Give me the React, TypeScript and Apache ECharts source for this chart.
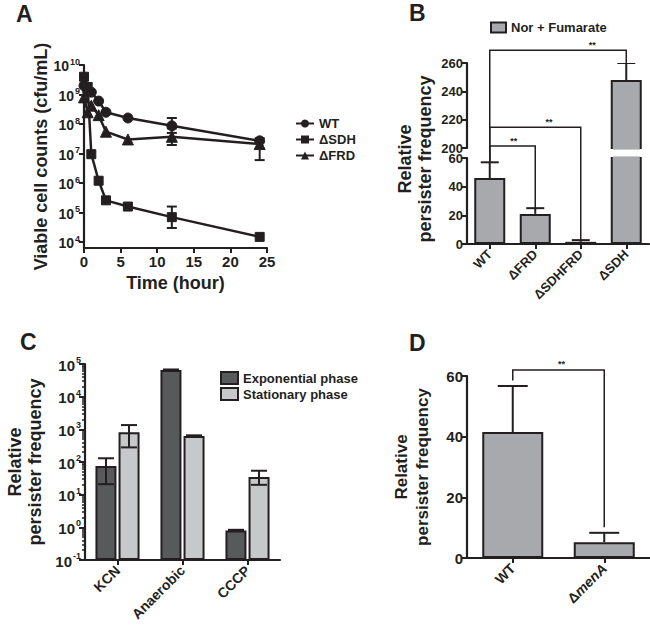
import React, { useEffect, useRef } from 'react';
import * as echarts from 'echarts';

const FONT = "'Liberation Sans', Arial, Helvetica, sans-serif";
const INK = '#231f20';

// ---------- Panel A: time-kill curves ----------
const timeHours = [0, 0.5, 1, 2, 3, 6, 12, 24];
const wtCounts = [2.0e9, 1.3e9, 1.2e9, 6.0e8, 2.5e8, 1.6e8, 8.7e7, 2.7e7];
const sdhCounts = [4.0e9, 1.8e9, 9.5e6, 1.2e6, 2.6e5, 1.6e5, 7.0e4, 1.5e4];
const frdCounts = [8.0e8, 2.5e8, 4.2e8, 2.0e8, 5.5e7, 3.0e7, 3.7e7, 2.1e7];
const wtErrLow: (number | null)[] = [null, null, null, null, null, null, 5.0e7, null];
const wtErrHigh: (number | null)[] = [null, null, null, null, null, null, 1.6e8, null];
const sdhErrLow: (number | null)[] = [null, null, null, null, null, null, 3.0e4, null];
const sdhErrHigh: (number | null)[] = [null, null, null, null, null, null, 1.6e5, null];
const frdErrLow: (number | null)[] = [null, null, null, null, null, null, 1.95e7, 6.0e6];
const frdErrHigh: (number | null)[] = [null, null, null, null, null, null, 7.1e7, 3.3e7];
const aYTicks = [1e4, 1e5, 1e6, 1e7, 1e8, 1e9, 1e10];

// ---------- Panel B ----------
const bCategories = ['WT', 'ΔFRD', 'ΔSDHFRD', 'ΔSDH'];
const bValues = [46, 21, 1.5, 248];
const bErrors = [11, 4, 1.2, 12];
const bBracketTargets = [3, 2, 1];
const bBracketLevels = [269, 214.7, 201.4];
const bStarFractions = [0.75, 0.65, 0.53];

// ---------- Panel C ----------
const cCategories = ['KCN', 'Anaerobic', 'CCCP'];
const expValues = [75, 65000, 0.8];
const expErrLow = [21, 62000, 0.77];
const expErrHigh = [130, 68000, 0.84];
const statValues = [820, 630, 35];
const statErrLow = [280, 605, 20];
const statErrHigh = [1350, 655, 54];
const cMajorTicks = [0.1, 1, 10, 100, 1000, 10000, 100000];
const cMinorTicks: number[] = [];
[0.1, 1, 10, 100, 1000, 10000].forEach((d) => {
  for (let k = 2; k <= 9; k++) cMinorTicks.push(+(d * k).toPrecision(3));
});

// ---------- Panel D ----------
const dCategories = ['WT', 'ΔmenA'];
const dValues = [41.5, 5.2];
const dErrors = [15.2, 3.1];
const dBracketLevel = 62;

const supLabel = (v: number) => `{b|10}{s|${Math.round(Math.log10(v))}}`;
const supRich = (base: number, sup: number) => ({
  b: { fontSize: base, fontWeight: 'bold', fontFamily: FONT, color: INK, lineHeight: base + 2, verticalAlign: 'bottom' },
  s: { fontSize: sup, fontWeight: 'bold', fontFamily: FONT, color: INK, verticalAlign: 'top', padding: [0, 0, 0, 1] },
});

const axisLine = { show: true, lineStyle: { color: INK, width: 2.2 } };
const axisTick = (len = 5) => ({ show: true, length: len, lineStyle: { color: INK, width: 2 } });
const label = (size: number) => ({ color: INK, fontSize: size, fontWeight: 'bold', fontFamily: FONT });

function errRender(offsetPx: number, capHalf: number, lowerCap: boolean) {
  return (params: any, api: any) => {
    const x = api.value(0);
    const lo = api.value(1);
    const hi = api.value(2);
    const pLo = api.coord([x, lo]);
    const pHi = api.coord([x, hi]);
    const cx = pLo[0] + offsetPx;
    const st = { stroke: INK, lineWidth: 2 };
    const children: any[] = [
      { type: 'line', shape: { x1: cx, y1: pLo[1], x2: cx, y2: pHi[1] }, style: st },
      { type: 'line', shape: { x1: cx - capHalf, y1: pHi[1], x2: cx + capHalf, y2: pHi[1] }, style: st },
    ];
    if (lowerCap) children.push({ type: 'line', shape: { x1: cx - capHalf, y1: pLo[1], x2: cx + capHalf, y2: pLo[1] }, style: st });
    return { type: 'group', children };
  };
}

function aErrData(lo: (number | null)[], hi: (number | null)[]) {
  const out: number[][] = [];
  timeHours.forEach((t, i) => {
    if (lo[i] != null && hi[i] != null) out.push([t, lo[i] as number, hi[i] as number]);
  });
  return out;
}

function buildOption(): any {
  const lineSeries = (name: string, vals: number[], symbol: string, size: number) => ({
    type: 'line', name, xAxisIndex: 0, yAxisIndex: 0,
    data: timeHours.map((t, i) => [t, vals[i]]),
    symbol, symbolSize: size, showSymbol: true,
    itemStyle: { color: INK, borderColor: INK },
    lineStyle: { color: INK, width: 2.5 }, z: 3,
  });
  const aErr = (lo: any, hi: any) => ({
    type: 'custom', xAxisIndex: 0, yAxisIndex: 0, z: 4,
    renderItem: errRender(0, 5, true),
    encode: { x: 0, y: [1, 2] },
    data: aErrData(lo, hi),
  });
  const bErrData = bValues.map((v, i) => [i, v, v + bErrors[i]]);
  const bBar = (xi: number, yi: number) => ({
    type: 'bar', name: 'Nor + Fumarate', xAxisIndex: xi, yAxisIndex: yi,
    data: bValues, barWidth: 31,
    itemStyle: { color: '#a7a9ac', borderColor: INK, borderWidth: 2 },
  });
  const bErr = (xi: number, yi: number) => ({
    type: 'custom', xAxisIndex: xi, yAxisIndex: yi, z: 4, clip: true,
    renderItem: errRender(0, 9, false), encode: { x: 0, y: [1, 2] }, data: bErrData,
  });
  const titleStyle = { fontSize: 23, fontWeight: 'bold', color: INK, fontFamily: FONT };

  return {
    animation: false,
    textStyle: { fontFamily: FONT, color: INK },
    title: [
      { text: 'A', left: 16, top: 2, padding: 0, textStyle: titleStyle },
      { text: 'B', left: 409, top: 1, padding: 0, textStyle: titleStyle },
      { text: 'C', left: 20, top: 330, padding: 0, textStyle: titleStyle },
      { text: 'D', left: 409, top: 331, padding: 0, textStyle: titleStyle },
    ],
    legend: [
      {
        data: ['WT', 'ΔSDH', 'ΔFRD'], orient: 'vertical', left: 295, top: 117, itemGap: 3,
        itemWidth: 18, itemHeight: 10, padding: 0,
        textStyle: { fontSize: 13, fontWeight: 'bold', color: INK, fontFamily: FONT },
      },
      {
        data: ['Nor + Fumarate'], left: 490, top: 21, itemWidth: 15, itemHeight: 10, padding: 0, icon: 'rect',
        textStyle: { fontSize: 13, fontWeight: 'bold', color: INK, fontFamily: FONT },
      },
      {
        data: ['Exponential phase', 'Stationary phase'], orient: 'vertical', left: 220, top: 371, itemGap: 2,
        itemWidth: 17, itemHeight: 12, padding: 0, icon: 'rect',
        textStyle: { fontSize: 13, fontWeight: 'bold', color: INK, fontFamily: FONT },
      },
    ],
    grid: [
      { left: 84, top: 65, width: 183, height: 183, outerBoundsMode: 'none' },
      { left: 467, top: 63, width: 182, height: 85, outerBoundsMode: 'none' },
      { left: 467, top: 158, width: 182, height: 86, outerBoundsMode: 'none' },
      { left: 85, top: 364, width: 195, height: 196, outerBoundsMode: 'none' },
      { left: 467, top: 376, width: 183, height: 182, outerBoundsMode: 'none' },
    ],
    xAxis: [
      {
        type: 'value', gridIndex: 0, min: 0, max: 25, interval: 5,
        axisLine, axisTick: axisTick(5), splitLine: { show: false },
        axisLabel: { ...label(15), margin: 6 },
        name: 'Time (hour)', nameLocation: 'middle', nameGap: 26,
        nameTextStyle: { fontSize: 18, fontWeight: 'bold', color: INK, fontFamily: FONT },
      },
      { type: 'category', gridIndex: 1, data: bCategories, show: false },
      {
        type: 'category', gridIndex: 2, data: bCategories,
        axisLine, axisTick: { ...axisTick(5), alignWithLabel: true },
        axisLabel: { ...label(13), rotate: 45, interval: 0, margin: 8 },
      },
      {
        type: 'category', gridIndex: 3, data: cCategories,
        axisLine, axisTick: { ...axisTick(5), alignWithLabel: true },
        axisLabel: { ...label(14), rotate: 45, interval: 0, margin: 8 },
      },
      {
        type: 'category', gridIndex: 4, data: dCategories,
        axisLine, axisTick: { ...axisTick(5), alignWithLabel: true },
        axisLabel: {
          ...label(14), rotate: 45, interval: 0, margin: 8,
          formatter: (v: string) => (v.startsWith('Δm') ? `{n|Δ}{i|${v.slice(1)}}` : v),
          rich: {
            n: { fontSize: 14, fontWeight: 'bold', fontFamily: FONT, color: INK },
            i: { fontSize: 14, fontWeight: 'bold', fontStyle: 'italic', fontFamily: FONT, color: INK },
          },
        },
      },
    ],
    yAxis: [
      {
        type: 'log', logBase: 10, gridIndex: 0, min: 6310, max: 1e10, position: 'left',
        axisLine, axisTick: { ...axisTick(5), customValues: aYTicks }, splitLine: { show: false },
        axisLabel: { customValues: aYTicks, formatter: supLabel, rich: supRich(14, 9), margin: 4 },
        name: 'Viable cell counts (cfu/mL)', nameLocation: 'middle', nameGap: 25,
        nameTextStyle: { fontSize: 18, fontWeight: 'bold', color: INK, fontFamily: FONT },
      },
      {
        type: 'value', gridIndex: 1, min: 200, max: 260, interval: 20,
        axisLine, axisTick: axisTick(5), splitLine: { show: false },
        axisLabel: { ...label(13), margin: 4, lineHeight: 9 },
      },
      {
        type: 'value', gridIndex: 2, min: 0, max: 60, interval: 20,
        axisLine, axisTick: axisTick(5), splitLine: { show: false },
        axisLabel: { ...label(13), margin: 4, lineHeight: 9 },
      },
      {
        type: 'log', logBase: 10, gridIndex: 3, min: 0.1, max: 1e5, startValue: 0.1, position: 'left',
        axisLine, axisTick: { ...axisTick(6), customValues: cMajorTicks }, splitLine: { show: false },
        axisLabel: { customValues: cMajorTicks, formatter: supLabel, rich: supRich(15, 9), margin: 4 },
        name: 'Relative\npersister frequency', nameLocation: 'middle', nameGap: 40,
        nameTextStyle: { fontSize: 18, fontWeight: 'bold', color: INK, fontFamily: FONT, lineHeight: 20 },
      },
      {
        type: 'log', logBase: 10, gridIndex: 3, min: 0.1, max: 1e5, position: 'left',
        axisLine: { show: false }, splitLine: { show: false }, axisLabel: { show: false },
        axisTick: { show: true, length: 3, customValues: cMinorTicks, lineStyle: { color: INK, width: 1.5 } },
      },
      {
        type: 'value', gridIndex: 4, min: 0, max: 60, interval: 20,
        axisLine, axisTick: axisTick(5), splitLine: { show: false }, axisLabel: { ...label(15), margin: 4 },
        name: 'Relative\npersister frequency', nameLocation: 'middle', nameGap: 34,
        nameTextStyle: { fontSize: 17, fontWeight: 'bold', color: INK, fontFamily: FONT, lineHeight: 21 },
      },
    ],
    series: [
      lineSeries('WT', wtCounts, 'circle', 10),
      lineSeries('ΔSDH', sdhCounts, 'rect', 9),
      lineSeries('ΔFRD', frdCounts, 'triangle', 11),
      aErr(wtErrLow, wtErrHigh),
      aErr(sdhErrLow, sdhErrHigh),
      aErr(frdErrLow, frdErrHigh),
      bBar(1, 1),
      bBar(2, 2),
      bErr(1, 1),
      bErr(2, 2),
      {
        type: 'bar', name: 'Exponential phase', xAxisIndex: 3, yAxisIndex: 3, data: expValues,
        barWidth: 21, barGap: '10%', itemStyle: { color: '#58595b', borderColor: INK, borderWidth: 2 },
      },
      {
        type: 'bar', name: 'Stationary phase', xAxisIndex: 3, yAxisIndex: 3, data: statValues,
        barWidth: 21, barGap: '10%', itemStyle: { color: '#c7c8ca', borderColor: INK, borderWidth: 2 },
      },
      {
        type: 'custom', xAxisIndex: 3, yAxisIndex: 3, z: 4, renderItem: errRender(-11.5, 8, true),
        encode: { x: 0, y: [1, 2] }, data: expValues.map((v, i) => [i, expErrLow[i], expErrHigh[i]]),
      },
      {
        type: 'custom', xAxisIndex: 3, yAxisIndex: 3, z: 4, renderItem: errRender(11.5, 8, true),
        encode: { x: 0, y: [1, 2] }, data: statValues.map((v, i) => [i, statErrLow[i], statErrHigh[i]]),
      },
      {
        type: 'bar', name: 'D', xAxisIndex: 4, yAxisIndex: 5, data: dValues, barWidth: 61,
        itemStyle: { color: '#a7a9ac', borderColor: INK, borderWidth: 2 },
      },
      {
        type: 'custom', xAxisIndex: 4, yAxisIndex: 5, z: 4, renderItem: errRender(0, 15, false),
        encode: { x: 0, y: [1, 2] }, data: dValues.map((v, i) => [i, v, v + dErrors[i]]),
      },
    ],
  };
}

function buildGraphics(chart: any) {
  const up = (c: number, v: number) => chart.convertToPixel({ xAxisIndex: 1, yAxisIndex: 1 }, [c, v]);
  const lo = (c: number, v: number) => chart.convertToPixel({ xAxisIndex: 2, yAxisIndex: 2 }, [c, v]);
  const dd = (c: number, v: number) => chart.convertToPixel({ xAxisIndex: 4, yAxisIndex: 5 }, [c, v]);
  const els: any[] = [];
  const line = (pts: number[][]) => ({
    type: 'polyline', shape: { points: pts }, style: { stroke: INK, lineWidth: 1.5, fill: 'none' }, z: 10,
  });
  const stars = (x: number, y: number) => ({
    type: 'text', x, y: y - 1, z: 10,
    style: { text: '**', fontSize: 9, fontWeight: 'bold', fontFamily: FONT, fill: INK, align: 'center', verticalAlign: 'bottom' },
  });

  // open the clipped ends of the broken bar (no horizontal border at the axis break)
  bValues.forEach((v, i) => {
    if (v <= 200) return;
    const edgeUp = up(i, 200);
    const edgeLo = lo(i, 60);
    [edgeUp, edgeLo].forEach((p) => {
      els.push({
        type: 'rect', z: 5, shape: { x: p[0] - 13.5, y: p[1] - 1.6, width: 27, height: 3.2 },
        style: { fill: '#a7a9ac', stroke: 'none' },
      });
    });
  });

  const wtTop = bValues[0] + bErrors[0];
  bBracketTargets.forEach((ti, k) => {
    const L = bBracketLevels[k];
    const cap = bValues[ti] + bErrors[ti];
    const a = lo(0, wtTop);
    const b = up(0, L);
    const c = up(ti, L);
    const d = cap > 200 ? up(ti, cap) : lo(ti, cap);
    els.push(line([a, b, c, d]));
    els.push(stars(b[0] + bStarFractions[k] * (c[0] - b[0]), b[1]));
  });
  {
    const a = dd(0, dValues[0] + dErrors[0] + 1.8);
    const b = dd(0, dBracketLevel);
    const c = dd(1, dBracketLevel);
    const d = dd(1, dValues[1] + dErrors[1] + 1.8);
    els.push(line([a, b, c, d]));
    els.push(stars((b[0] + c[0]) / 2 + 3, b[1]));
  }
  els.push({
    type: 'text', x: 415, y: 159, rotation: Math.PI / 2, z: 10,
    style: {
      text: 'Relative\npersister frequency', fontSize: 18, fontWeight: 'bold', fontFamily: FONT, fill: INK,
      align: 'center', verticalAlign: 'middle', lineHeight: 20,
    },
  });
  return els;
}

export default function App() {
  const ref = useRef<HTMLDivElement>(null);
  useEffect(() => {
    const chart = echarts.init(ref.current as HTMLDivElement, null, { renderer: 'svg' });
    chart.setOption(buildOption());
    chart.setOption({ graphic: buildGraphics(chart) });
    return () => chart.dispose();
  }, []);
  return <div ref={ref} style={{ position: 'fixed', left: 0, top: 0, width: 650, height: 631, background: '#fff' }} />;
}
